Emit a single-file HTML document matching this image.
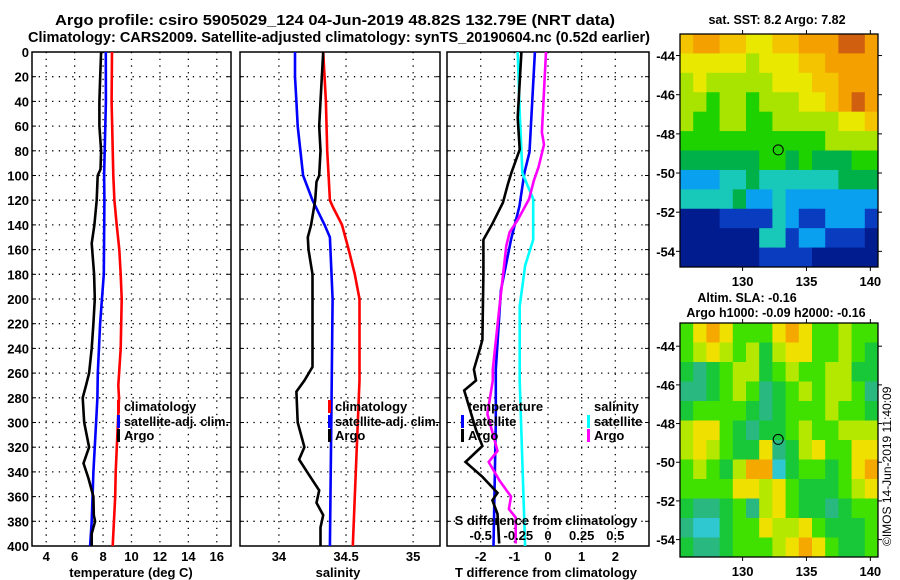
<!DOCTYPE html>
<html><head><meta charset="utf-8"><style>
html,body{margin:0;padding:0;background:#fff;}
svg{display:block;font-family:"Liberation Sans",sans-serif;font-weight:bold;}
</style></head><body>
<svg id="chart" width="900" height="580" viewBox="0 0 900 580">
<g>
<text x="55" y="25" font-size="15" textLength="560" lengthAdjust="spacingAndGlyphs">Argo profile: csiro 5905029_124 04-Jun-2019 48.82S 132.79E (NRT data)</text>
<text x="28" y="42" font-size="14.5" textLength="622" lengthAdjust="spacingAndGlyphs">Climatology: CARS2009. Satellite-adjusted climatology: synTS_20190604.nc (0.52d earlier)</text>
</g>
<g id="plots"></g>
</svg>
<script>
// ---- profile data (depth in dbar) ----
const depthTicks = [0,20,40,60,80,100,120,140,160,180,200,220,240,260,280,300,320,340,360,380,400];
const tempTicks = [4,6,8,10,12,14,16];
const salTicks = [34,34.5,35];
const salTickLabels = ["34","34.5","35"];
const tdiffTicks = [-2,-1,0,1,2];
const sdiffTicks = [-0.5,-0.25,0,0.25,0.5];
const sdiffTickLabels = ["-0.5","-0.25","0","0.25","0.5"];

const tClimDepth = [0,40,100,120,140,160,180,200,240,270,280,340,360,400];
const tClimVal   = [8.63,8.6,8.72,8.8,8.96,9.14,9.24,9.31,9.24,9.07,9.12,8.89,8.85,8.68];
const tSatDepth  = [0,40,100,120,180,220,260,280,300,340,380,400];
const tSatVal    = [8.19,8.2,8.07,8.09,8.05,7.79,7.63,7.6,7.51,7.32,7.2,7.09];
const tArgoDepth = [0,20,40,60,80,95,100,120,140,155,180,200,220,240,260,270,280,300,320,333,345,360,375,380,390,400];
const tArgoVal   = [7.86,7.8,7.74,7.74,7.86,7.82,7.62,7.55,7.39,7.2,7.37,7.42,7.32,7.2,7.02,6.8,6.57,6.67,7.02,6.62,6.97,7.32,7.35,7.44,7.2,7.2];

const sClimDepth = [0,40,80,100,120,125,140,160,180,200,266,400];
const sClimVal   = [34.33,34.35,34.36,34.37,34.38,34.40,34.47,34.52,34.565,34.6,34.6,34.55];
const sSatDepth  = [0,20,40,60,80,100,120,140,150,200,300,400];
const sSatVal    = [34.12,34.12,34.13,34.14,34.16,34.18,34.25,34.34,34.38,34.4,34.39,34.38];
const sArgoDepth = [0,40,60,80,100,105,120,140,150,160,180,200,240,255,266,275,300,320,330,340,355,365,375,385,400];
const sArgoVal   = [34.33,34.31,34.3,34.31,34.3,34.28,34.27,34.24,34.215,34.22,34.25,34.25,34.25,34.25,34.19,34.13,34.14,34.19,34.15,34.21,34.3,34.28,34.33,34.31,34.31];

const dTSatDepth  = [0,81,98,125,152,193,257,300,400];
const dTSatVal    = [-0.39,-0.55,-0.7,-0.85,-1.1,-1.4,-1.55,-1.55,-1.62];
const dTArgoDepth = [0,53,79,98,107,122,139,152,179,233,241,257,266,274,306,319,332,344,357,363,374,398];
const dTArgoVal   = [-0.79,-0.9,-0.84,-1.09,-1.19,-1.34,-1.65,-1.92,-1.92,-1.95,-2.03,-2.2,-2.14,-2.49,-2.14,-1.95,-2.45,-1.95,-1.5,-1.65,-1.5,-1.45];
const dSSatDepth  = [0,49,98,119,152,173,206,266,400];
const dSSatVal    = [-0.225,-0.21,-0.19,-0.11,-0.11,-0.17,-0.21,-0.21,-0.17];
const dSArgoDepth = [0,65,75,93,104,119,136,146,157,206,257,266,293,323,332,347,360,370,377,398];
const dSArgoVal   = [-0.015,-0.045,-0.03,-0.07,-0.105,-0.14,-0.225,-0.285,-0.31,-0.36,-0.41,-0.41,-0.45,-0.375,-0.44,-0.36,-0.275,-0.29,-0.24,-0.24];

// ---- maps (colour class indices, rows north->south, cols west->east) ----
const sstGrid = [
[8,9,9,8,8,7,7,8,8,9,9,9,10,10,9],
[7,7,7,7,7,6,7,7,7,8,8,9,9,9,9],
[6,7,6,6,6,6,6,7,7,7,8,8,9,9,9],
[6,6,5,6,6,5,6,6,6,7,7,8,9,10,9],
[6,5,5,6,6,5,5,6,6,6,6,6,7,7,8],
[5,5,5,5,5,5,5,5,5,5,5,6,6,6,6],
[4,4,4,4,4,4,5,5,4,5,4,4,4,5,5],
[2,2,2,3,3,4,3,3,3,3,3,3,4,4,4],
[3,3,3,3,4,2,2,3,2,2,2,2,2,2,2],
[0,0,0,1,1,1,1,3,2,1,1,2,2,2,1],
[0,0,0,0,0,0,3,3,1,2,2,1,1,1,0],
[0,0,0,0,0,0,1,1,1,1,0,0,0,0,0]];
const sstColors = ["#001c8e","#0a3cc0","#0aa0f0","#18c8b8","#00b048","#1ed200","#a8e400","#e8e800","#f4c400","#f4a000","#d06010"];
const slaGrid = [
[3,5,6,5,3,3,3,5,6,5,3,3,4,3,3],
[3,4,5,4,3,4,2,4,5,5,3,3,4,3,2],
[2,1,2,3,4,4,2,3,4,3,3,4,4,2,2],
[1,1,2,3,4,3,1,2,3,4,3,4,4,3,1],
[2,3,3,3,3,2,1,2,3,3,3,4,3,3,2],
[4,5,5,3,2,1,2,2,3,4,3,3,4,4,4],
[4,5,4,3,2,2,5,1,2,4,5,3,3,5,5],
[3,4,3,2,4,6,6,0,2,3,3,2,3,5,6],
[3,3,3,3,5,5,4,5,3,2,2,2,3,4,5],
[2,1,1,2,3,1,4,5,3,2,2,1,2,3,3],
[1,0,0,2,3,3,5,4,4,5,3,2,2,2,3],
[2,1,1,2,3,3,3,4,5,6,5,3,2,2,3]];
const slaColors = ["#30c8d0","#28b880","#18c838","#40e000","#b4e800","#f0e000","#f4a800","#e07010"];
const mapLatTicks = [-44,-46,-48,-50,-52,-54];
const mapLonTicks = [130,135,140];
const argoLon = 132.79, argoLat = -48.82;

const NS = "http://www.w3.org/2000/svg";
const root = document.getElementById('plots');
function mk(tag, attrs, parent, txt){
  const e = document.createElementNS(NS, tag);
  for (const k in attrs) e.setAttribute(k, attrs[k]);
  if (txt !== undefined) e.textContent = txt;
  (parent||root).appendChild(e);
  return e;
}
const Y0 = 52, Y1 = 546;
const yDepth = d => Y0 + d/400*(Y1-Y0);

function panel(name, x0, x1, dmin, dmax, ticks, labels, grid){
  const g = mk('g', {});
  
  
  const sx = v => x0 + (v-dmin)/(dmax-dmin)*(x1-x0);
  depthTicks.forEach(d => {
    if (d>0 && d<400) {
      const l = mk('line',{x1:x0,x2:x1,y1:yDepth(d),y2:yDepth(d),stroke:'#000','stroke-width':1.3,'stroke-dasharray':'1.3,5.4'},g);
      
      
    }
    mk('line',{x1:x0,x2:x0+4,y1:yDepth(d),y2:yDepth(d),stroke:'#000','stroke-width':1},g);
    mk('line',{x1:x1-4,x2:x1,y1:yDepth(d),y2:yDepth(d),stroke:'#000','stroke-width':1},g);
  });
  grid.forEach(v => {
    const l = mk('line',{x1:sx(v),x2:sx(v),y1:Y0,y2:Y1,stroke:'#000','stroke-width':1.3,'stroke-dasharray':'1.3,5.4'},g);
    
    
  });
  ticks.forEach((v,i) => {
    if (labels) {
      const t = mk('text',{x:sx(v),y:561,'font-size':13,'text-anchor':'middle'},g,labels[i]);
      
      
    }
  });
  mk('rect',{x:x0,y:Y0,width:x1-x0,height:Y1-Y0,fill:'none',stroke:'#000','stroke-width':1.5},g);
  return {g, sx};
}
function line(p, depths, vals, color, name, w){
  const pts = depths.map((d,i)=>p.sx(vals[i]).toFixed(1)+','+yDepth(d).toFixed(1)).join(' ');
  const l = mk('polyline',{points:pts,fill:'none',stroke:color,'stroke-width':w||2.6,'stroke-linejoin':'miter'},p.g);
  
  
}
function legendItem(g, x, y, color, label, name, len){
  if (color) mk('rect',{x:x-7,y:y-11,width:3,height:13,fill:color},g);
  const a = {x:x,y:y,'font-size':13};
  if (len) { a.textLength = len; a.lengthAdjust = 'spacingAndGlyphs'; }
  const t = mk('text',a,g,label);
  
  
}

depthTicks.forEach(d => {
  const t = mk('text',{x:29,y:yDepth(d)+5,'font-size':13,'text-anchor':'end'},root,String(d));
  
  
});

// Panel 1 temperature
const p1 = panel('temperature-panel', 32, 231, 3, 17, tempTicks, tempTicks.map(String), tempTicks);
line(p1, tClimDepth, tClimVal, '#ff0000', 'temperature-climatology-line');
line(p1, tSatDepth, tSatVal, '#0000ff', 'temperature-satellite-line');
line(p1, tArgoDepth, tArgoVal, '#000000', 'temperature-argo-line');
legendItem(p1.g, 124, 411, '#ff0000', 'climatology', 'legend-climatology');
legendItem(p1.g, 124, 426, '#0000ff', 'satellite-adj. clim.', 'legend-satellite', 105);
legendItem(p1.g, 124, 440, '#000000', 'Argo', 'legend-argo');
let t = mk('text',{x:131,y:577,'font-size':13,'text-anchor':'middle'},p1.g,'temperature (deg C)');



// Panel 2 salinity
const p2 = panel('salinity-panel', 240, 440, 33.71, 35.2, salTicks, salTickLabels, salTicks);
line(p2, sClimDepth, sClimVal, '#ff0000', 'salinity-climatology-line');
line(p2, sSatDepth, sSatVal, '#0000ff', 'salinity-satellite-line');
line(p2, sArgoDepth, sArgoVal, '#000000', 'salinity-argo-line');
legendItem(p2.g, 335, 411, '#ff0000', 'climatology', 'legend-climatology');
legendItem(p2.g, 335, 426, '#0000ff', 'satellite-adj. clim.', 'legend-satellite', 104);
legendItem(p2.g, 335, 440, '#000000', 'Argo', 'legend-argo');
t = mk('text',{x:338,y:577,'font-size':13,'text-anchor':'middle'},p2.g,'salinity');



// Panel 3 differences
const p3 = panel('difference-panel', 447, 649, -3, 3, tdiffTicks, tdiffTicks.map(String), tdiffTicks);
const p3s = {g:p3.g, sx: v => 447 + (v+0.75)/1.5*202};
line(p3, dTSatDepth, dTSatVal, '#0000ff', 'tdiff-satellite-line');
line(p3s, dSSatDepth, dSSatVal, '#00ffff', 'sdiff-satellite-line');
line(p3s, dSArgoDepth, dSArgoVal, '#ff00ff', 'sdiff-argo-line');
line(p3, dTArgoDepth, dTArgoVal, '#000000', 'tdiff-argo-line');
legendItem(p3.g, 468, 411, null, 'temperature', 'legend-temperature-header');
legendItem(p3.g, 468, 426, '#0000ff', 'satellite', 'legend-t-satellite');
legendItem(p3.g, 468, 440, '#000000', 'Argo', 'legend-t-argo');
legendItem(p3.g, 594, 411, null, 'salinity', 'legend-salinity-header');
legendItem(p3.g, 594, 426, '#00ffff', 'satellite', 'legend-s-satellite');
legendItem(p3.g, 594, 440, '#ff00ff', 'Argo', 'legend-s-argo');
t = mk('text',{x:546,y:525,'font-size':13,'text-anchor':'middle'},p3.g,'S difference from climatology');


sdiffTicks.forEach((v,i)=>{
  const tt = mk('text',{x:p3s.sx(v)+(v===-0.25?4:0),y:540,'font-size':13,'text-anchor':'middle'},p3.g,sdiffTickLabels[i]);
  
  
});
t = mk('text',{x:546,y:577,'font-size':13,'text-anchor':'middle'},p3.g,'T difference from climatology');



// Maps
function drawMap(name, top, bottom, latTop, latBot, grid, colors, titles){
  const g = mk('g',{});
  
  
  const x0 = 680, x1 = 878;
  const lonL = 125.1, lonR = 140.6;
  const sx = lon => x0 + (lon-lonL)/(lonR-lonL)*(x1-x0);
  const sy = lat => top + (latTop-lat)/(latTop-latBot)*(bottom-top);
  const rows = grid.length, cols = grid[0].length;
  const cw = (x1-x0)/cols, ch = (bottom-top)/rows;
  grid.forEach((row,r)=>row.forEach((c,k)=>{
    const cell = mk('rect',{x:(x0+k*cw).toFixed(2),y:(top+r*ch).toFixed(2),width:(cw+0.5).toFixed(2),height:(ch+0.5).toFixed(2),fill:colors[c]},g);
    
    
  }));
  mk('rect',{x:x0,y:top,width:x1-x0,height:bottom-top,fill:'none',stroke:'#000','stroke-width':1.3},g);
  mapLatTicks.forEach(lat=>{
    const y = sy(lat);
    mk('line',{x1:x0-4,x2:x0,y1:y,y2:y,stroke:'#000'},g);
    mk('line',{x1:x1,x2:x1+4,y1:y,y2:y,stroke:'#000'},g);
    const tl = mk('text',{x:675,y:y+5,'font-size':13,'text-anchor':'end'},g,String(lat));
    
    
  });
  mapLonTicks.forEach(lon=>{
    const x = sx(lon);
    mk('line',{x1:x,x2:x,y1:bottom,y2:bottom+4,stroke:'#000'},g);
    mk('line',{x1:x,x2:x,y1:top-4,y2:top,stroke:'#000'},g);
    const tl = mk('text',{x:x,y:bottom+19,'font-size':13,'text-anchor':'middle'},g,String(lon));
    
    
  });
  const c = mk('circle',{cx:sx(argoLon),cy:sy(argoLat),r:5,fill:'none',stroke:'#000','stroke-width':1},g);
  
  
  titles.forEach(tt=>{
    const e = mk('text',{x:tt[0],y:tt[1],'font-size':12.5,'text-anchor':'middle'},g,tt[2]);
    
    
  });
}
drawMap('sst-map', 34, 267, -42.9, -54.8, sstGrid, sstColors, [[777,24,'sat. SST: 8.2 Argo: 7.82','sst-map-title']]);
drawMap('sla-map', 323, 557, -42.8, -54.9, slaGrid, slaColors, [[747,302,'Altim. SLA: -0.16','sla-map-title'],[776,317,'Argo h1000: -0.09 h2000: -0.16','sla-map-subtitle']]);
t = mk('text',{x:0,y:0,'font-size':12,'font-weight':'normal',transform:'translate(891,546) rotate(-90)'},root,'©IMOS 14-Jun-2019 11:40:09');


</script>
</body></html>
